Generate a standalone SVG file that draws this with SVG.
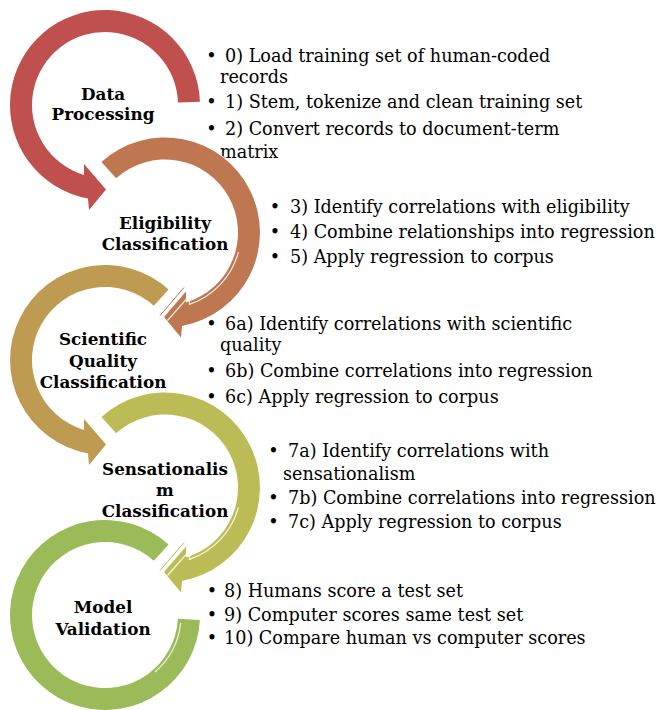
<svg xmlns="http://www.w3.org/2000/svg" width="664" height="710" viewBox="0 0 664 710">
<style>
.ring{stroke:#fff;stroke-width:2;paint-order:stroke;stroke-linejoin:miter}
.hl{fill:none;stroke:#fff;stroke-width:1.2;opacity:0.85}
.edge{fill:none;stroke-width:1}
.lbl{font-family:"DejaVu Serif","Liberation Serif",serif;font-weight:bold;font-size:16.8px;fill:#000;text-anchor:middle}
.txt{font-family:"DejaVu Serif","Liberation Serif",serif;font-size:17.6px;fill:#000}
.bul{font-family:"DejaVu Serif","Liberation Serif",serif;font-size:17.6px;fill:#000;text-anchor:middle}
</style>
<rect width="664" height="710" fill="#fff"/>

<g id="node-data-processing">
<path class="ring" fill="#C0504D" d="M 199.94,101.7 A 95 95 0 1 0 88,198.5 L 89,210 L 106,189.5 L 84,164 L 84,174.9 A 73 73 0 1 1 177.96,102.45 Z"/>
<text class="lbl" x="103" y="100">Data</text>
<text class="lbl" x="103" y="120">Processing</text>
</g>
<g id="steps-data-processing">
<text class="bul" x="211.5" y="61.5">•</text>
<text class="txt" x="225" y="61.5">0) Load training set of human-coded</text>
<text class="txt" x="220" y="83">records</text>
<text class="bul" x="211.5" y="108">•</text>
<text class="txt" x="225" y="108">1) Stem, tokenize and clean training set</text>
<text class="bul" x="211.5" y="135">•</text>
<text class="txt" x="225" y="135">2) Convert records to document-term</text>
<text class="txt" x="220" y="157.5">matrix</text>
</g>

<g id="node-eligibility">
<path class="ring" fill="#BE7750" d="M 101.43,161.90 A 95 95 0 1 1 182,326 L 181,337.5 L 164,317 L 186,291.5 L 186,302.4 A 73 73 0 1 0 116.15,178.25 Z"/>
<path class="hl" d="M 238.4,252.2 A 76 76 0 0 1 189.5,304.4 L 189.5,295.5 L 167.5,320.5"/>
<path class="edge" stroke="#BE7750" d="M 184,287.5 L 160,315.5"/>
<text class="lbl" x="165" y="228.5">Eligibility</text>
<text class="lbl" x="165" y="249.5">Classification</text>
</g>
<g id="steps-eligibility">
<text class="bul" x="275" y="213">•</text>
<text class="txt" x="290" y="213">3) Identify correlations with eligibility</text>
<text class="bul" x="275" y="238">•</text>
<text class="txt" x="290" y="238">4) Combine relationships into regression</text>
<text class="bul" x="275" y="263">•</text>
<text class="txt" x="290" y="263">5) Apply regression to corpus</text>
</g>

<g id="node-scientific-quality">
<path class="ring" fill="#BE9B50" d="M 168.57,289.40 A 95 95 0 1 0 88,453.5 L 89,465 L 106,444.5 L 84,419 L 84,429.9 A 73 73 0 1 1 153.85,305.75 Z"/>
<text class="lbl" x="103" y="345">Scientific</text>
<text class="lbl" x="103" y="366.5">Quality</text>
<text class="lbl" x="103" y="388">Classification</text>
</g>
<g id="steps-scientific-quality">
<text class="bul" x="211.5" y="330">•</text>
<text class="txt" x="225" y="330">6a) Identify correlations with scientific</text>
<text class="txt" x="220" y="351">quality</text>
<text class="bul" x="211.5" y="377">•</text>
<text class="txt" x="225" y="377">6b) Combine correlations into regression</text>
<text class="bul" x="211.5" y="402.5">•</text>
<text class="txt" x="225" y="402.5">6c) Apply regression to corpus</text>
</g>

<g id="node-sensationalism">
<path class="ring" fill="#BCBC56" d="M 101.43,416.90 A 95 95 0 1 1 182,581 L 181,592.5 L 164,572 L 186,546.5 L 186,557.4 A 73 73 0 1 0 116.15,433.25 Z"/>
<path class="hl" d="M 238.4,507.2 A 76 76 0 0 1 189.5,559.4 L 189.5,550.5 L 167.5,575.5"/>
<path class="edge" stroke="#BCBC56" d="M 184,542.5 L 160,570.5"/>
<text class="lbl" x="165" y="475">Sensationalis</text>
<text class="lbl" x="165" y="496">m</text>
<text class="lbl" x="165" y="517">Classification</text>
</g>
<g id="steps-sensationalism">
<text class="bul" x="273.5" y="456.5">•</text>
<text class="txt" x="288" y="456.5">7a) Identify correlations with</text>
<text class="txt" x="283" y="479.5">sensationalism</text>
<text class="bul" x="273.5" y="503.5">•</text>
<text class="txt" x="288" y="503.5">7b) Combine correlations into regression</text>
<text class="bul" x="273.5" y="527.5">•</text>
<text class="txt" x="288" y="527.5">7c) Apply regression to corpus</text>
</g>

<g id="node-model-validation">
<path class="ring" fill="#9BBB59" d="M 168.57,544.40 A 95 95 0 1 0 199.87,619.97 L 177.90,618.82 A 73 73 0 1 1 153.85,560.75 Z"/>
<path class="hl" d="M 180.7,623 A 76 76 0 0 1 155,672"/>
<text class="lbl" x="103" y="613">Model</text>
<text class="lbl" x="103" y="635">Validation</text>
</g>
<g id="steps-model-validation">
<text class="bul" x="212" y="597">•</text>
<text class="txt" x="224" y="597">8) Humans score a test set</text>
<text class="bul" x="212" y="620.5">•</text>
<text class="txt" x="224" y="620.5">9) Computer scores same test set</text>
<text class="bul" x="212" y="644">•</text>
<text class="txt" x="224" y="644">10) Compare human vs computer scores</text>
</g>

<g id="connectors"></g>
</svg>
